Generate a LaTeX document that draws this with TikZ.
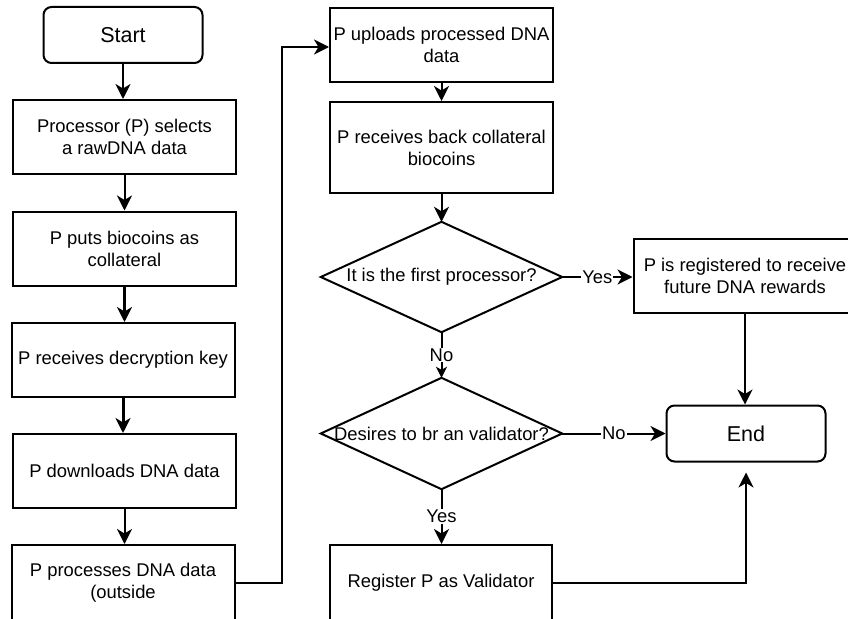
\documentclass[tikz,border=0pt]{standalone}
\usepackage{fontspec}
\setmainfont{Liberation Sans}
\usetikzlibrary{arrows.meta,calc}
\begin{document}
\begin{tikzpicture}[x=1pt,y=-1pt,
  every node/.style={font=\fontsize{18.4pt}{22pt}\selectfont, text=black},
  proc/.style={draw, line width=2pt, minimum width=223pt, minimum height=74pt, inner sep=0pt, align=center},
  term/.style={draw, line width=2pt, rounded corners=8pt, minimum width=159pt, minimum height=56pt, inner sep=0pt, font=\fontsize{21.5pt}{26pt}\selectfont},
  decision/.style={minimum width=241pt, minimum height=110pt, inner sep=0pt},
  outline/.style={line width=2pt, line join=miter},
  flow/.style={line width=2pt, -{Stealth[length=15pt,width=15pt,inset=4.5pt]}},
  heavy/.style={flow, line width=3pt},
  smalltip/.style={line width=2pt, -{Stealth[length=11pt,width=11pt,inset=3pt]}},
  tag/.style={fill=white, inner sep=1pt},
]
\useasboundingbox (0,0) rectangle (848,618);
\clip (0,0) rectangle (848,618);

% left column
\node[term] (start) at (123,35) {Start};
\node[proc] (b1) at (124.5,137) {Processor (P) selects\\a rawDNA data};
\node[proc] (b2) at (124.5,248.5) {P puts biocoins as\\collateral};
\node[proc] (b3) at (123,360) {P receives decryption key};
\node[proc] (b4) at (124.5,471) {P downloads DNA data};
\node[proc, minimum height=76pt] (b5) at (123,583) {P processes DNA data\\(outside};

% middle column
\node[proc] (b6) at (441.5,45) {P uploads processed DNA\\data};
\node[proc, minimum height=91pt] (b7) at (441.5,147.5) {P receives back collateral\\biocoins};
\node[decision] (d1) at (441.5,277) {It is the first processor?};
\draw[outline] (d1.north) -- (d1.east) -- (d1.south) -- (d1.west) -- cycle;
\node[decision, minimum height=111pt] (d2) at (441.5,433.5) {Desires to br an validator?};
\draw[outline] (d2.north) -- (d2.east) -- (d2.south) -- (d2.west) -- cycle;
\node[proc, minimum width=222pt, minimum height=76pt] (b9) at (441,583) {Register P as Validator};

% right column
\node[proc] (b8) at (745,276) {P is registered to receive\\future DNA rewards};
\node[term] (end) at (746,433.5) {End};

% connectors
\draw[flow] (start.south) -- (start.south |- b1.north);
\draw[flow] (b1.south) -- (b2.north);
\draw[heavy] (b2.south) -- (b2.south |- b3.north);
\draw[heavy] (b3.south) -- (b3.south |- b4.north);
\draw[flow] (b4.south) -- (b4.south |- b5.north);
\coordinate (bend) at (282,47);
\draw[flow] (b5.east) -| (bend) -- (bend -| b6.west);
\draw[flow] (b6.south) -- (b7.north);
\draw[flow] (b7.south) -- (d1.north);
\draw[flow] (d1.east) -- node[tag]{Yes} (d1.east -| b8.west);
\draw[smalltip] (d1.south) -- node[tag]{No} (d2.north);
\draw[flow] (d2.east) -- node[tag]{No} (d2.east -| end.west);
\draw[flow] (d2.south) -- node[tag]{Yes} (d2.south |- b9.north);
\draw[flow] (b8.south) -- (b8.south |- end.north);
\draw[flow] (b9.east) -| ($(end.south)+(0,10)$);
\end{tikzpicture}
\end{document}
